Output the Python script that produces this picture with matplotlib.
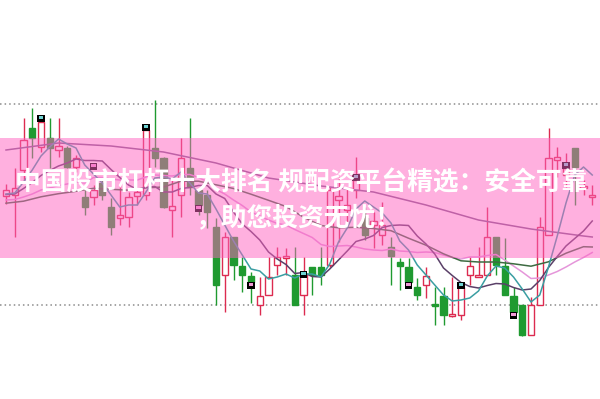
import matplotlib
matplotlib.use("Agg")
import matplotlib.pyplot as plt
from matplotlib.patches import Rectangle

plt.rcParams['font.family'] = ['Noto Sans CJK SC', 'DejaVu Sans']

# ---- data (price units, arbitrary) ----
opens  = [204,205,230,272,253,262,250,252,233,203,203,217,193,182,183,204,205,252,242,190,
          205,232,210,205,173,125,163,134,124,95,105,135,142,125,105,133,133,135,200,190,
          210,182,175,165,153,138,133,113,115,96,104,84,85,125,123,125,163,134,104,95,
          65,95,165,240,225,252,212,203]
closes = [210,212,260,262,278,252,254,233,242,193,210,205,173,185,203,208,270,242,193,194,
          242,213,195,188,115,163,135,125,118,104,123,143,144,95,125,125,125,210,204,195,
          220,165,179,175,144,134,118,105,124,94,85,86,113,134,125,163,135,105,88,65,
          95,173,242,243,232,233,214,205]
highs  = [216,232,282,292,285,282,282,254,245,212,215,222,202,215,208,212,273,300,243,222,
          262,282,212,210,182,168,163,143,128,123,143,153,152,153,143,133,153,213,223,212,
          243,193,188,198,163,142,142,122,133,113,113,123,117,143,153,193,163,162,113,95,
          103,183,272,253,247,252,220,215]
lows   = [196,163,220,242,248,232,243,232,228,185,195,200,165,175,173,195,200,233,192,163,
          183,205,185,172,95,88,120,108,97,85,105,125,125,95,85,105,115,133,158,173,
          202,160,152,155,115,110,112,100,102,75,75,83,80,115,123,125,125,105,82,64,
          65,95,165,223,213,195,205,195]

ma5 = [206,207,218,230,244,253,261,256,252,235,226,217,205,193,195,195,208,222,223,221,
       228,217,207,206,191,175,159,145,131,129,121,123,126,122,126,126,123,136,158,172,
       191,199,193,187,177,159,150,135,125,115,105,99,100,102,109,124,134,132,123,111,
       98,105,133,164,197,225,233,225]
ma10 = [205.5,206,211.5,217.5,224.5,229.5,234,237,241,239.5,239.5,239,230.5,222.5,215,210.5,
        212.5,213.5,208,208,211.5,212.5,214.5,214.5,206,201.5,188,176,168.5,160,148,141,
        135.5,126.5,127.5,123.5,123,131,140,149,158.5,161,164.5,172.5,174.5,175,174.5,164,
        156,146,132,124.5,117.5,113.5,112,114.5,116.5,116,112.5,110,111,119.5,132.5,143.5,
        154,161.5,169,179]
ma20 = [200,200.5,203,206,210,212,214.5,216,218,217,222.5,222.5,221,220,220,220,223,225,
        224.5,224,225.5,225.5,222.5,218.5,210.5,206,200,194.5,188,184,180,176.5,175,170.5,
        166.5,162.5,155.5,153.5,154,154.5,153,151,150,149.5,151,149,148.5,147.5,148,147.5,
        145,142.5,141,143,143,144.5,145.5,140,134,128,121.5,122,125,128.5,133,138,142.5,147.5]
ma30_idx = [0,2,4,6,8,10,12,14,16,18,20,22,24,26,28,30,32,34,36,38,40,42,44,46,48,50,
            52,54,56,58,60,62,64,66,67]
ma30 = [196.8,198.8,203.2,206.3,208.7,211.7,210.7,209.8,212.2,213,218.8,218.8,215.2,211.5,
        205.8,199.7,193.5,182.8,174.5,172.2,172.7,171.5,169.3,161.8,154.8,146.2,139.2,138,
        138,136.2,133.8,138.2,146.8,153.3,153]
ma60_idx = [0,6,12,18,24,30,36,42,48,54,60,66,67]
ma60 = [250,257,254,248,237,222,214,208,195,180,171,164,163]

# signal markers: candle index, level, colour type
mark_idx = [4,10,16,22,28,34,40,46,52,58,64]
mark_val = [281.5,234,273,192,115,126,223,115,115,85,235]
mark_col = ['t','p','t','p','p','t','t','p','t','p','t']

grid_levels = [296, 95]

line1 = "中国股市杠杆十大排名 规配资平台精选：安全可靠"
line2 = "，助您投资无忧！"

# ---- drawing ----
RED = '#DC2B50'
GREEN = '#1F9A30'
W, H = 600, 399
fig = plt.figure(figsize=(W/100, H/100), dpi=100)
ax = fig.add_axes([0, 0, 1, 1])
step = 8.75
ax.set_xlim(-6/step, (W-6)/step)
ax.set_ylim(1, 400)
ax.axis('off')

for g in grid_levels:
    ax.axhline(g, color='#8c8c8c', lw=1.1, ls=(0, (1, 2)), zorder=1)

n = len(opens)
for i in range(n):
    o, c, h, l = opens[i], closes[i], highs[i], lows[i]
    up = c >= o
    col = RED if up else GREEN
    ax.vlines(i, l, h, color=col, lw=1, zorder=2)
    bh = max(abs(c - o), 1.2)
    ax.bar(i, bh, bottom=min(o, c), width=0.72,
           facecolor='white' if up else GREEN, edgecolor=col, lw=1, zorder=3)

xs = list(range(n))
ax.plot(xs, ma20, color='#E596DA', lw=1.1, zorder=4)
ax.plot(ma30_idx, ma30, color='#3E6B42', lw=1.1, zorder=4)
ax.plot(ma60_idx, ma60, color='#7F5F8C', lw=1.1, zorder=4)
ax.plot(xs, ma10, color='#5A4068', lw=1.1, zorder=4)
ax.plot(xs, ma5, color='#3A9EA2', lw=1.1, zorder=4)

for i, v, t in zip(mark_idx, mark_val, mark_col):
    ax.add_patch(Rectangle((i - 0.42, v - 3.5), 0.84, 7, facecolor='black',
                           edgecolor='none', zorder=6))
    ax.add_patch(Rectangle((i - 0.25, v - 0.5), 0.5, 3,
                           facecolor='#6FD3D3' if t == 't' else '#F29AD8',
                           edgecolor='none', zorder=7))

ax.axhspan(400 - 258, 400 - 138, color='#FF63C1', alpha=0.5, lw=0, zorder=8)

fig.text(301/W, 1 - 183/H, line1, color='white', fontsize=18.5, fontweight='bold',
         ha='center', va='center', zorder=10)
fig.text(299/W, 1 - 218/H, line2, color='white', fontsize=18.5, fontweight='bold',
         ha='center', va='center', zorder=10)

fig.savefig('out.png', dpi=100)
